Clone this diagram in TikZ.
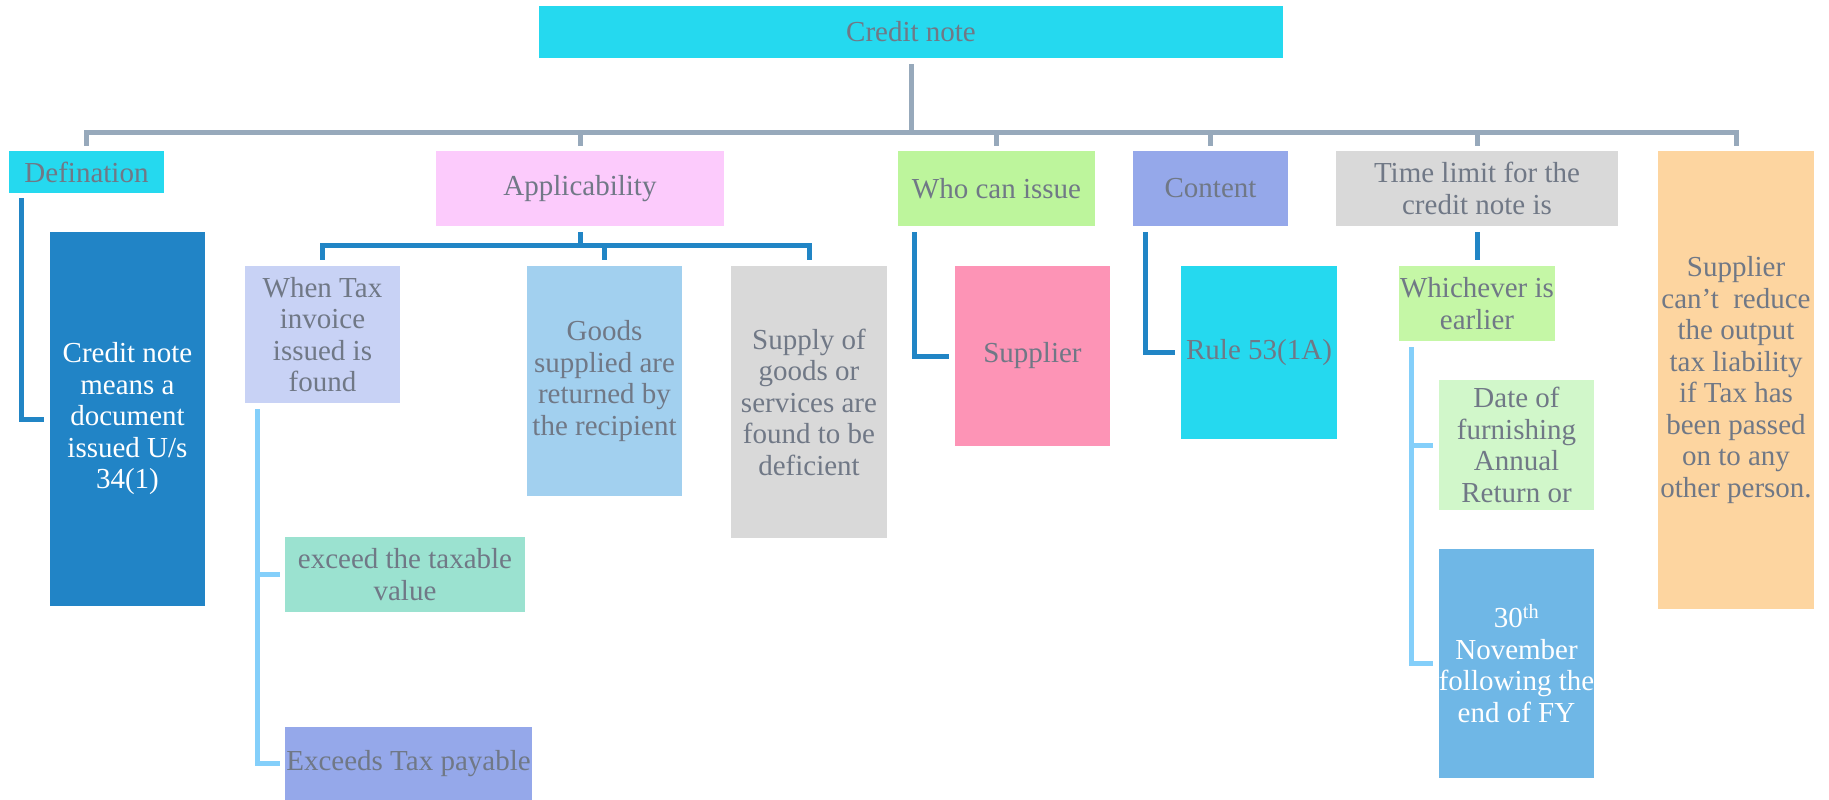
\documentclass[tikz,border=0pt]{standalone}
\usepackage{fontspec}
\setmainfont{Liberation Serif}
\usetikzlibrary{calc}
\definecolor{txt}{RGB}{112,120,134}
\definecolor{cyanb}{RGB}{37,217,239}
\definecolor{pinkb}{RGB}{252,203,252}
\definecolor{greenb}{RGB}{189,245,156}
\definecolor{periw}{RGB}{149,168,234}
\definecolor{greyb}{RGB}{217,217,217}
\definecolor{peach}{RGB}{253,213,160}
\definecolor{darkblue}{RGB}{33,132,198}
\definecolor{lavender}{RGB}{200,210,245}
\definecolor{skyb}{RGB}{162,208,239}
\definecolor{mint}{RGB}{155,226,208}
\definecolor{rose}{RGB}{253,148,182}
\definecolor{lgreen}{RGB}{197,247,166}
\definecolor{palegreen}{RGB}{209,247,202}
\definecolor{midblue}{RGB}{111,183,230}
\definecolor{gline}{RGB}{151,169,187}
\definecolor{dline}{RGB}{33,133,197}
\definecolor{lline}{RGB}{132,207,250}
\tikzset{
  bx/.style={rectangle, inner sep=0pt, align=center, text=txt,
    font=\fontsize{29}{31.5}\selectfont},
  wt/.style={text=white},
  gcon/.style={draw=gline, line width=5pt},
  dcon/.style={draw=dline, line width=5pt},
  lcon/.style={draw=lline, line width=5pt},
}
\begin{document}
\begin{tikzpicture}[x=1pt,y=-1pt]
\useasboundingbox (0,0) rectangle (1829,800);
% top level
\node[bx, fill=cyanb, minimum width=744pt, minimum height=52pt] (credit) at (911,32) {Credit note};
\node[bx, fill=cyanb, minimum width=155pt, minimum height=42pt] (def) at (86.5,172) {Defination};
\node[bx, fill=pinkb, minimum width=288pt, minimum height=75pt] (app) at (580,188.5) {Applicability};
\node[bx, fill=greenb, minimum width=197pt, minimum height=75pt] (who) at (996.5,188.5) {Who can issue};
\node[bx, fill=periw, minimum width=155pt, minimum height=75pt] (content) at (1210.5,188.5) {Content};
\node[bx, fill=greyb, minimum width=282pt, minimum height=75pt] (time) at (1477,188.5) {Time limit for the\\credit note is};
\node[bx, fill=peach, minimum width=156pt, minimum height=458pt] (supp2) at (1736,380) {Supplier\\can’t\ \ reduce\\the output\\tax liability\\if Tax has\\been passed\\on to any\\other person.};
% second level
\node[bx, wt, fill=darkblue, minimum width=155pt, minimum height=374pt] (cnm) at (127.5,419) {Credit note\\means a\\document\\issued U/s\\34(1)};
\node[bx, fill=lavender, minimum width=155pt, minimum height=137pt] (whentax) at (322.5,334.5) {When Tax\\invoice\\issued is\\found};
\node[bx, fill=skyb, minimum width=155pt, minimum height=230pt] (goods) at (604.5,381) {Goods\\supplied are\\returned by\\the recipient};
\node[bx, fill=greyb, minimum width=156pt, minimum height=272pt] (supply) at (809,402) {Supply of\\goods or\\services are\\found to be\\deficient};
\node[bx, fill=mint, minimum width=240pt, minimum height=75pt] (exceed) at (405,574.5) {exceed the taxable\\value};
\node[bx, fill=periw, minimum width=247pt, minimum height=73pt] (exceeds) at (408.5,763.5) {Exceeds Tax payable};
\node[bx, fill=rose, minimum width=155pt, minimum height=180pt] (supplier) at (1032.5,356) {Supplier};
\node[bx, fill=cyanb, minimum width=156pt, minimum height=173pt] (rule) at (1259,352.5) {Rule 53(1A)};
\node[bx, fill=lgreen, minimum width=156pt, minimum height=75pt] (which) at (1477,303.5) {Whichever is\\earlier};
\node[bx, fill=palegreen, minimum width=155pt, minimum height=130pt] (date) at (1516.5,445) {Date of\\furnishing\\Annual\\Return or};
\node[bx, wt, fill=midblue, minimum width=155pt, minimum height=229pt] (thirty) at (1516.5,663.5) {30\textsuperscript{th}\\November\\following the\\end of FY};
% main tree
\coordinate (bar) at (911,132);
\draw[gcon] ([yshift=-6pt]credit.south) -- (bar);
\draw[gcon] ([yshift=5pt]def.north) -- (def.north |- bar) -- (supp2.north |- bar) -- ([yshift=5pt]supp2.north);
\draw[gcon] ([yshift=5pt]app.north) -- (app.north |- bar);
\draw[gcon] ([yshift=5pt]who.north) -- (who.north |- bar);
\draw[gcon] ([yshift=5pt]content.north) -- (content.north |- bar);
\draw[gcon] ([yshift=5pt]time.north) -- (time.north |- bar);
% definition
\draw[dcon] ([xshift=13pt,yshift=-5pt]def.south west) |- ([xshift=-6pt]cnm.west);
% applicability
\coordinate (abar) at (580,245);
\draw[dcon] ([yshift=-6pt]app.south) -- (abar);
\draw[dcon] ([yshift=6pt]whentax.north) -- (whentax.north |- abar) -- (supply.north |- abar) -- ([yshift=6pt]supply.north);
\draw[dcon] ([yshift=6pt]goods.north) -- (goods.north |- abar);
\draw[lcon] ([xshift=13pt,yshift=-6pt]whentax.south west) |- ([xshift=-5pt]exceeds.west);
\draw[lcon] ([xshift=13pt]whentax.south west |- exceed.west) -- ([xshift=-5pt]exceed.west);
% who / content
\draw[dcon] ([xshift=17pt,yshift=-6pt]who.south west) |- ([xshift=-6pt]supplier.west);
\draw[dcon] ([xshift=13pt,yshift=-6pt]content.south west) |- ([xshift=-6pt]rule.west);
% time limit
\draw[dcon] ([yshift=-6pt]time.south) -- ([yshift=6pt]which.north);
\draw[lcon] ([xshift=13pt,yshift=-6pt]which.south west) |- ([xshift=-6pt]thirty.west);
\draw[lcon] ([xshift=13pt]which.south west |- date.west) -- ([xshift=-6pt]date.west);
\end{tikzpicture}
\end{document}
